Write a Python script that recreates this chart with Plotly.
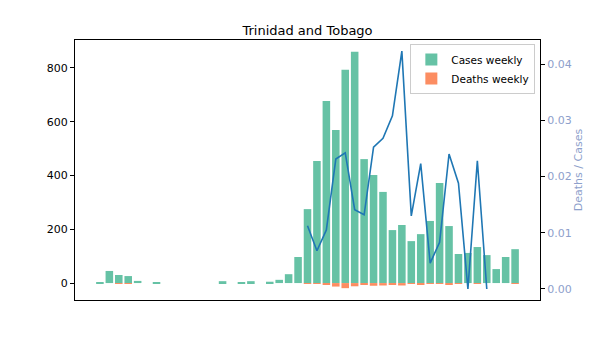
import plotly.graph_objects as go

weeks = list(range(45))
cases_weekly = [4, 45, 30, 26, 8, 0, 4, 0, 0, 0, 0, 0, 0, 7, 0, 4, 7, 0, 5, 12,
                33, 97, 275, 454, 677, 569, 793, 860, 461, 402, 339, 197, 216, 156,
                182, 231, 372, 212, 108, 112, 134, 104, 52, 97, 126]
deaths_weekly = [0, 0, 3, 3, 0, 0, 0, 0, 0, 0, 0, 0, 0, 0, 0, 0, 0, 0, 0, 0,
                 0, 0, 3, 3, 7, 13, 19, 12, 6, 10, 9, 6, 9, 2,
                 4, 1, 3, 5, 2, 0, 3, 0, 0, 0, 3]
ratio = [None] * 22 + [0.01125, 0.0068, 0.0105, 0.0231, 0.0242, 0.0141, 0.0132,
                       0.0252, 0.0268, 0.0308, 0.0423, 0.0130, 0.0223, 0.0046,
                       0.0083, 0.0240, 0.0188, 0.0, 0.0228, 0.0, None, None, None]

font = "DejaVu Sans"
fig = go.Figure()
fig.add_trace(go.Bar(x=weeks, y=cases_weekly, width=0.8, name="Cases weekly",
                     marker=dict(color="#66c2a5", line=dict(width=0))))
fig.add_trace(go.Bar(x=weeks, y=[-d for d in deaths_weekly], width=0.8, name="Deaths weekly",
                     marker=dict(color="#fc8d62", line=dict(width=0))))
fig.add_trace(go.Scatter(x=weeks, y=ratio, mode="lines", yaxis="y2", showlegend=False,
                         line=dict(color="#1f77b4", width=1.6), connectgaps=False))

fig.update_layout(
    width=600, height=337,
    margin=dict(l=75, r=60, t=40, b=37),
    paper_bgcolor="white", plot_bgcolor="white",
    barmode="overlay",
    font=dict(family=font, size=11, color="black"),
    title=dict(text="Trinidad and Tobago", x=0.5 * (75 + 540) / 600, xanchor="center",
               y=1 - 30 / 337, yanchor="middle", font=dict(size=13, color="black")),
    xaxis=dict(range=[-2.64, 46.64], showticklabels=False, ticks="", showgrid=False,
               zeroline=False, showline=True, linecolor="black", linewidth=1, mirror=True),
    yaxis=dict(range=[-63, 904], tickvals=[0, 200, 400, 600, 800], ticks="outside",
               ticklen=4, tickcolor="black", showgrid=False, zeroline=False,
               showline=True, linecolor="black", linewidth=1,
               tickfont=dict(size=11, color="black")),
    yaxis2=dict(overlaying="y", side="right", range=[-0.00196, 0.04427],
                tickvals=[0, 0.01, 0.02, 0.03, 0.04], tickformat=".2f",
                ticks="outside", ticklen=4, tickcolor="black", showgrid=False,
                zeroline=False, showline=True, linecolor="black", linewidth=1,
                tickfont=dict(size=11, color="#8da0cb"),
                title=dict(text="Deaths / Cases", font=dict(size=11, color="#8da0cb"), standoff=3)),
    legend=dict(x=0.99, y=0.985, xanchor="right", yanchor="top", bgcolor="rgba(255,255,255,0.8)",
                bordercolor="#cccccc", borderwidth=1, font=dict(size=10.5, color="black"),
                traceorder="normal", tracegroupgap=0, itemwidth=30),
)
fig.write_html("out.html")
